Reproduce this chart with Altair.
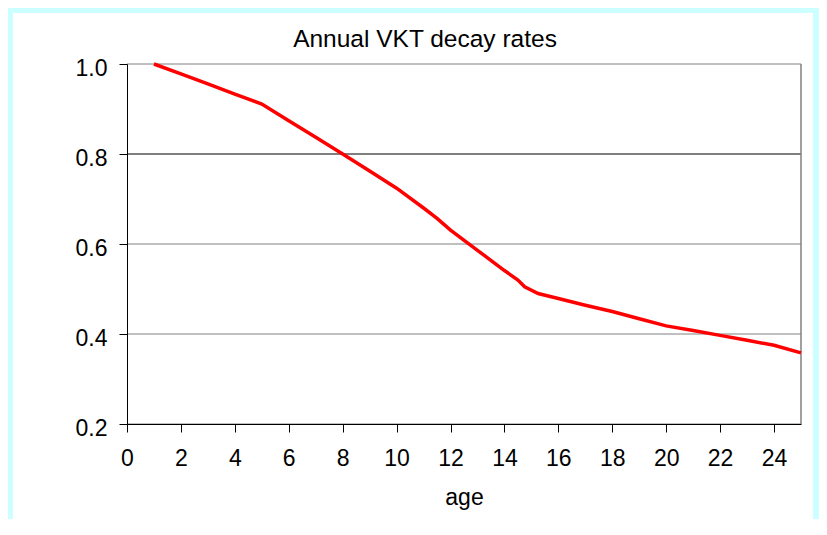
import altair as alt
import pandas as pd

# Data
age = [1, 2, 3, 4, 5, 6, 7, 8, 9, 10, 11, 11.5, 12, 13, 14, 14.5, 14.75, 15.25,
       16, 17, 18, 19, 20, 21, 22, 23, 24, 25]
vkt = [1.0, 0.978, 0.956, 0.933, 0.911, 0.874, 0.837, 0.800, 0.762, 0.724, 0.680, 0.657, 0.631,
       0.586, 0.541, 0.520, 0.505, 0.490, 0.479, 0.464, 0.450, 0.434, 0.418, 0.408,
       0.397, 0.386, 0.375, 0.358]
x_ticks = [0, 2, 4, 6, 8, 10, 12, 14, 16, 18, 20, 22, 24]
y_ticks = [0.2, 0.4, 0.6, 0.8, 1.0]
x_max = [25]
title_text = "Annual VKT decay rates"

df = pd.DataFrame({"age": age, "vkt": vkt})
FONT = "Liberation Sans, Arial, sans-serif"

x_scale = alt.Scale(domain=[0, 25], nice=False, zero=False)
y_scale = alt.Scale(domain=[0.2, 1.0], nice=False, zero=False)

x_axis = alt.Axis(
    values=x_ticks, grid=False, title="age", tickSize=8, tickColor="black",
    domainColor="black", labelFontSize=23, labelFont=FONT, labelColor="black",
    labelPadding=15, labelFlush=False, labelOverlap=False,
    titleFontSize=23, titleFont=FONT, titleFontWeight="normal", titleColor="black",
    titlePadding=16, zindex=1,
)
y_axis = alt.Axis(
    values=y_ticks, format=".1f", grid=False,
    tickSize=8, tickColor="black", domainColor="black",
    labelFontSize=23, labelFont=FONT, labelColor="black", labelPadding=12,
    labelOffset=4, labelFlush=False, labelOverlap=False, title=None, zindex=1,
)

bg = alt.Chart(pd.DataFrame({"a": [0]})).mark_rect(color="white").encode(
    x=alt.value(-114), x2=alt.value(686), y=alt.value(-51), y2=alt.value(455)
)

grid = alt.Chart(pd.DataFrame({"g": y_ticks})).mark_rule(strokeWidth=1).encode(
    y=alt.Y("g:Q", scale=y_scale, axis=y_axis),
    color=alt.condition("datum.g === 0.8", alt.value("black"), alt.value("#808080")),
)

right = alt.Chart(pd.DataFrame({"r": x_max})).mark_rule(strokeWidth=1.5, color="#808080").encode(
    x=alt.X("r:Q", scale=x_scale, axis=x_axis),
)

line = alt.Chart(df).mark_line(color="#FF0000", strokeWidth=3.5).encode(
    x=alt.X("age:Q", scale=x_scale, axis=x_axis),
    y=alt.Y("vkt:Q", scale=y_scale, axis=y_axis),
)

title = alt.Chart(pd.DataFrame({"t": [title_text]})).mark_text(
    fontSize=24.5, font=FONT, color="black", align="center", baseline="alphabetic"
).encode(text="t:N", x=alt.value(298), y=alt.value(-17))

chart = alt.layer(bg, grid, right, line, title).properties(
    width=674,
    height=360,
    autosize=alt.AutoSizeParams(type="none"),
    padding={"left": 119, "top": 56, "right": 18, "bottom": 95},
    background="#CCFFFF",
).configure_view(stroke=None)

chart.save("out.html", embed_options={"renderer": "svg", "actions": False})
